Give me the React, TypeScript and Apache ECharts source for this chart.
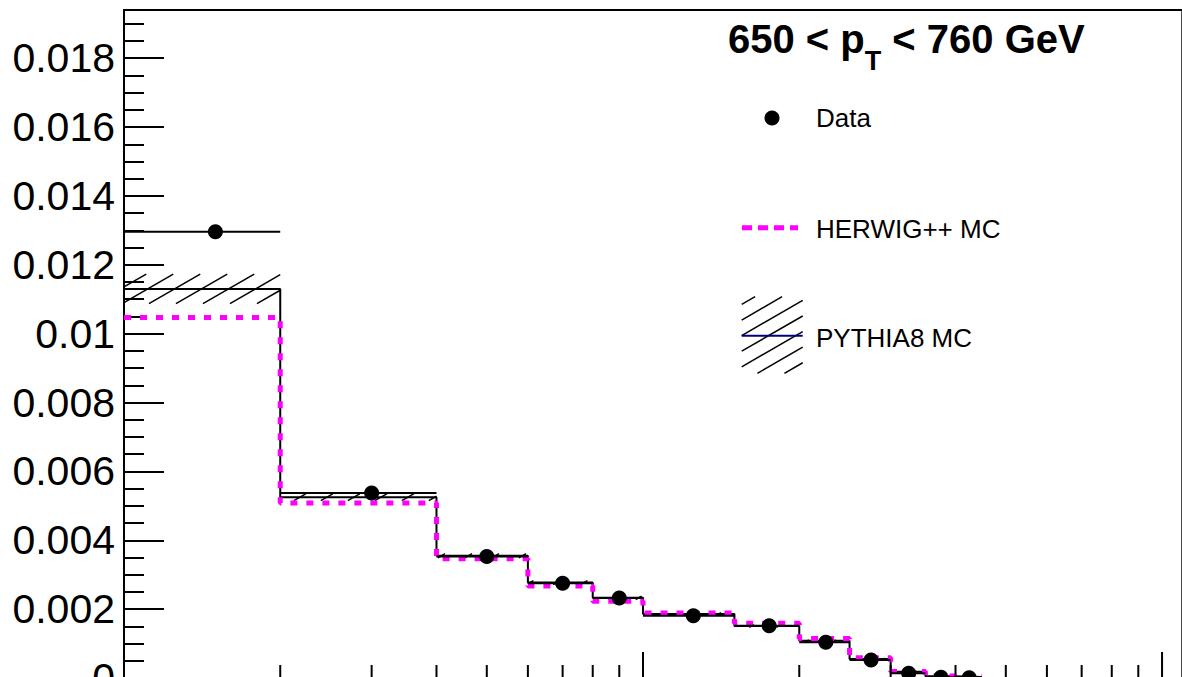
import React, { useEffect, useRef } from "react";
import * as echarts from "echarts";

// ---- data ----
const binEdges = [10, 20, 40, 60, 80, 100, 150, 200, 250, 300, 350, 400, 450];
const dataValues = [0.01296, 0.00537, 0.00353, 0.00275, 0.00232, 0.00181, 0.00152, 0.00104, 0.00052, 0.00014, 0.00002, 0.00001];
const pythiaValues = [0.0113, 0.00525, 0.00355, 0.00277, 0.00233, 0.00186, 0.00151, 0.00108, 0.00055, 0.00018, 0.00005, 0.00003];
const pythiaErrors = [0.00043, 0.0001, 0.00006, 0.00006, 0.00005, 0.00004, 0.00004, 0.00003, 0.00003, 0.00002, 0.00001, 0.00001];
const herwigValues = [0.01047, 0.00508, 0.00346, 0.00267, 0.00223, 0.00189, 0.00159, 0.00115, 0.00059, 0.00019, 0.00006, 0.00005];
const xMajorTicks = [10, 100, 1000];
const xMinorTicks = [20, 30, 40, 50, 60, 70, 80, 90, 200, 300, 400, 500, 600, 700, 800, 900];
const titleText = "{a|650 < p}{b|T}{a| < 760 GeV}";
const legendLabels = ["Data", "HERWIG++ MC", "PYTHIA8 MC"];

const FONT = "'Liberation Sans', Arial, Helvetica, sans-serif";

function hatchSegments(xa: number, ya: number, xb: number, yb: number, hSpacing: number, angleDeg: number) {
  const t = Math.tan((angleDeg * Math.PI) / 180);
  const dv = hSpacing * t;
  const x0 = Math.min(xa, xb), x1 = Math.max(xa, xb);
  const y0 = Math.min(ya, yb), y1 = Math.max(ya, yb);
  const cmin = y0 + t * x0, cmax = y1 + t * x1;
  const segs: number[][] = [];
  for (let k = Math.ceil(cmin / dv); k * dv <= cmax; k++) {
    const c = k * dv;
    const sx = Math.max(x0, (c - y1) / t);
    const ex = Math.min(x1, (c - y0) / t);
    if (ex - sx > 0.3) segs.push([sx, c - t * sx, ex, c - t * ex]);
  }
  return segs;
}

function stepPoints(values: number[]) {
  const pts: number[][] = [];
  values.forEach((v, i) => {
    pts.push([binEdges[i], v]);
    pts.push([binEdges[i + 1], v]);
  });
  return pts;
}

export default function App() {
  const ref = useRef<HTMLDivElement>(null);
  useEffect(() => {
    if (!ref.current) return;
    const chart = echarts.init(ref.current, null, { renderer: "svg" });

    const legendHatch = hatchSegments(741.7, 296.7, 802.7, 373.3, 27, 30).map((s) => ({
      type: "line",
      shape: { x1: s[0], y1: s[1], x2: s[2], y2: s[3] },
      style: { stroke: "#000", lineWidth: 1.5 },
      silent: true,
    }));

    const option: any = {
      animation: false,
      backgroundColor: "#fff",
      grid: {
        left: 124,
        top: 10,
        right: -0.3,
        bottom: -1,
        show: true,
        borderColor: "#000",
        borderWidth: 2,
        backgroundColor: "transparent",
        containLabel: false,
        outerBoundsMode: "none",
      },
      xAxis: {
        type: "log",
        logBase: 10,
        min: 10,
        max: 1094,
        axisLine: { show: false },
        axisTick: { show: false },
        axisLabel: { show: false },
        splitLine: { show: false },
      },
      yAxis: {
        type: "value",
        min: 0,
        max: 0.0194,
        interval: 0.002,
        axisLine: { show: true, lineStyle: { color: "#000", width: 2 } },
        axisTick: { show: true, inside: true, length: 40, lineStyle: { color: "#000", width: 2 } },
        minorTick: { show: true, splitNumber: 4, length: 20, lineStyle: { color: "#000", width: 2 } },
        splitLine: { show: false },
        minorSplitLine: { show: false },
        axisLabel: {
          show: true,
          margin: 9,
          fontSize: 41,
          color: "#000",
          fontFamily: FONT,
          showMaxLabel: false,
          formatter: (v: number) => String(parseFloat(v.toFixed(4))),
        },
      },
      graphic: [
        {
          type: "text",
          x: 728,
          y: 2.5,
          silent: true,
          style: {
            text: titleText,
            verticalAlign: "top",
            align: "left",
            rich: {
              a: { fontSize: 40, fontWeight: "bold", fontFamily: FONT, fill: "#000", color: "#000", lineHeight: 72, verticalAlign: "middle" },
              b: { fontSize: 27, fontWeight: "bold", fontFamily: FONT, fill: "#000", color: "#000", lineHeight: 20, verticalAlign: "bottom" },
            },
          },
        },
        { type: "circle", shape: { cx: 772, cy: 118, r: 7.5 }, style: { fill: "#000" }, silent: true },
        {
          type: "text", x: 816, y: 118, silent: true,
          style: { text: legendLabels[0], fontSize: 26, fontFamily: FONT, fill: "#000", verticalAlign: "middle" },
        },
        {
          type: "line", silent: true,
          shape: { x1: 742, y1: 227.7, x2: 798, y2: 227.7 },
          style: { stroke: "#ff00ff", lineWidth: 5, lineDash: [10, 6] },
        },
        {
          type: "text", x: 816, y: 229, silent: true,
          style: { text: legendLabels[1], fontSize: 26, fontFamily: FONT, fill: "#000", verticalAlign: "middle" },
        },
        ...legendHatch,
        {
          type: "line", silent: true,
          shape: { x1: 741.7, y1: 335.7, x2: 802.7, y2: 335.7 },
          style: { stroke: "#000080", lineWidth: 2 },
        },
        {
          type: "text", x: 816, y: 337.5, silent: true,
          style: { text: legendLabels[2], fontSize: 26, fontFamily: FONT, fill: "#000", verticalAlign: "middle" },
        },
      ],
      series: [
        {
          name: "PYTHIA8 band",
          type: "custom",
          z: 1,
          clip: true,
          data: pythiaValues.map((v, i) => [binEdges[i], binEdges[i + 1], v - pythiaErrors[i], v + pythiaErrors[i]]),
          encode: { x: [0, 1], y: [2, 3] },
          renderItem: (params: any, api: any) => {
            const a = api.coord([api.value(0), api.value(3)]);
            const b = api.coord([api.value(1), api.value(2)]);
            const segs = hatchSegments(a[0], a[1], b[0], b[1], 27, 30);
            return {
              type: "group",
              children: segs.map((s) => ({
                type: "line",
                shape: { x1: s[0], y1: s[1], x2: s[2], y2: s[3] },
                style: { stroke: "#000", lineWidth: 1.5 },
              })),
            };
          },
        },
        {
          name: "PYTHIA8 MC",
          type: "line",
          z: 2,
          data: stepPoints(pythiaValues),
          showSymbol: false,
          symbol: "none",
          lineStyle: { color: "#000", width: 2 },
        },
        {
          name: "HERWIG++ MC",
          type: "line",
          z: 3,
          data: stepPoints(herwigValues),
          showSymbol: false,
          symbol: "none",
          lineStyle: { color: "#ff00ff", width: 5, type: [7, 9], cap: "butt" },
        },
        {
          name: "Data xerr",
          type: "custom",
          z: 4,
          data: dataValues.map((v, i) => [binEdges[i], binEdges[i + 1], v]),
          encode: { x: [0, 1], y: 2 },
          renderItem: (params: any, api: any) => {
            const a = api.coord([api.value(0), api.value(2)]);
            const b = api.coord([api.value(1), api.value(2)]);
            return {
              type: "line",
              shape: { x1: a[0], y1: a[1], x2: b[0], y2: b[1] },
              style: { stroke: "#000", lineWidth: 2 },
            };
          },
        },
        {
          name: "Data",
          type: "scatter",
          z: 5,
          symbol: "circle",
          symbolSize: 15,
          itemStyle: { color: "#000", opacity: 1 },
          data: dataValues.map((v, i) => [(binEdges[i] + binEdges[i + 1]) / 2, v]),
        },
        {
          name: "x ticks",
          type: "custom",
          z: 6,
          clip: false,
          silent: true,
          data: xMajorTicks.map((v) => [v, 1]).concat(xMinorTicks.map((v) => [v, 0])),
          encode: { x: 0 },
          renderItem: (params: any, api: any) => {
            const p = api.coord([api.value(0), 0]);
            const len = api.value(1) ? 26 : 13;
            return {
              type: "line",
              shape: { x1: p[0], y1: p[1], x2: p[0], y2: p[1] - len },
              style: { stroke: "#000", lineWidth: 2 },
            };
          },
        },
      ],
    };
    chart.setOption(option);
    return () => chart.dispose();
  }, []);

  return (
    <div
      ref={ref}
      style={{ position: "fixed", left: 0, top: 0, width: 1182, height: 677, background: "#fff" }}
    />
  );
}
